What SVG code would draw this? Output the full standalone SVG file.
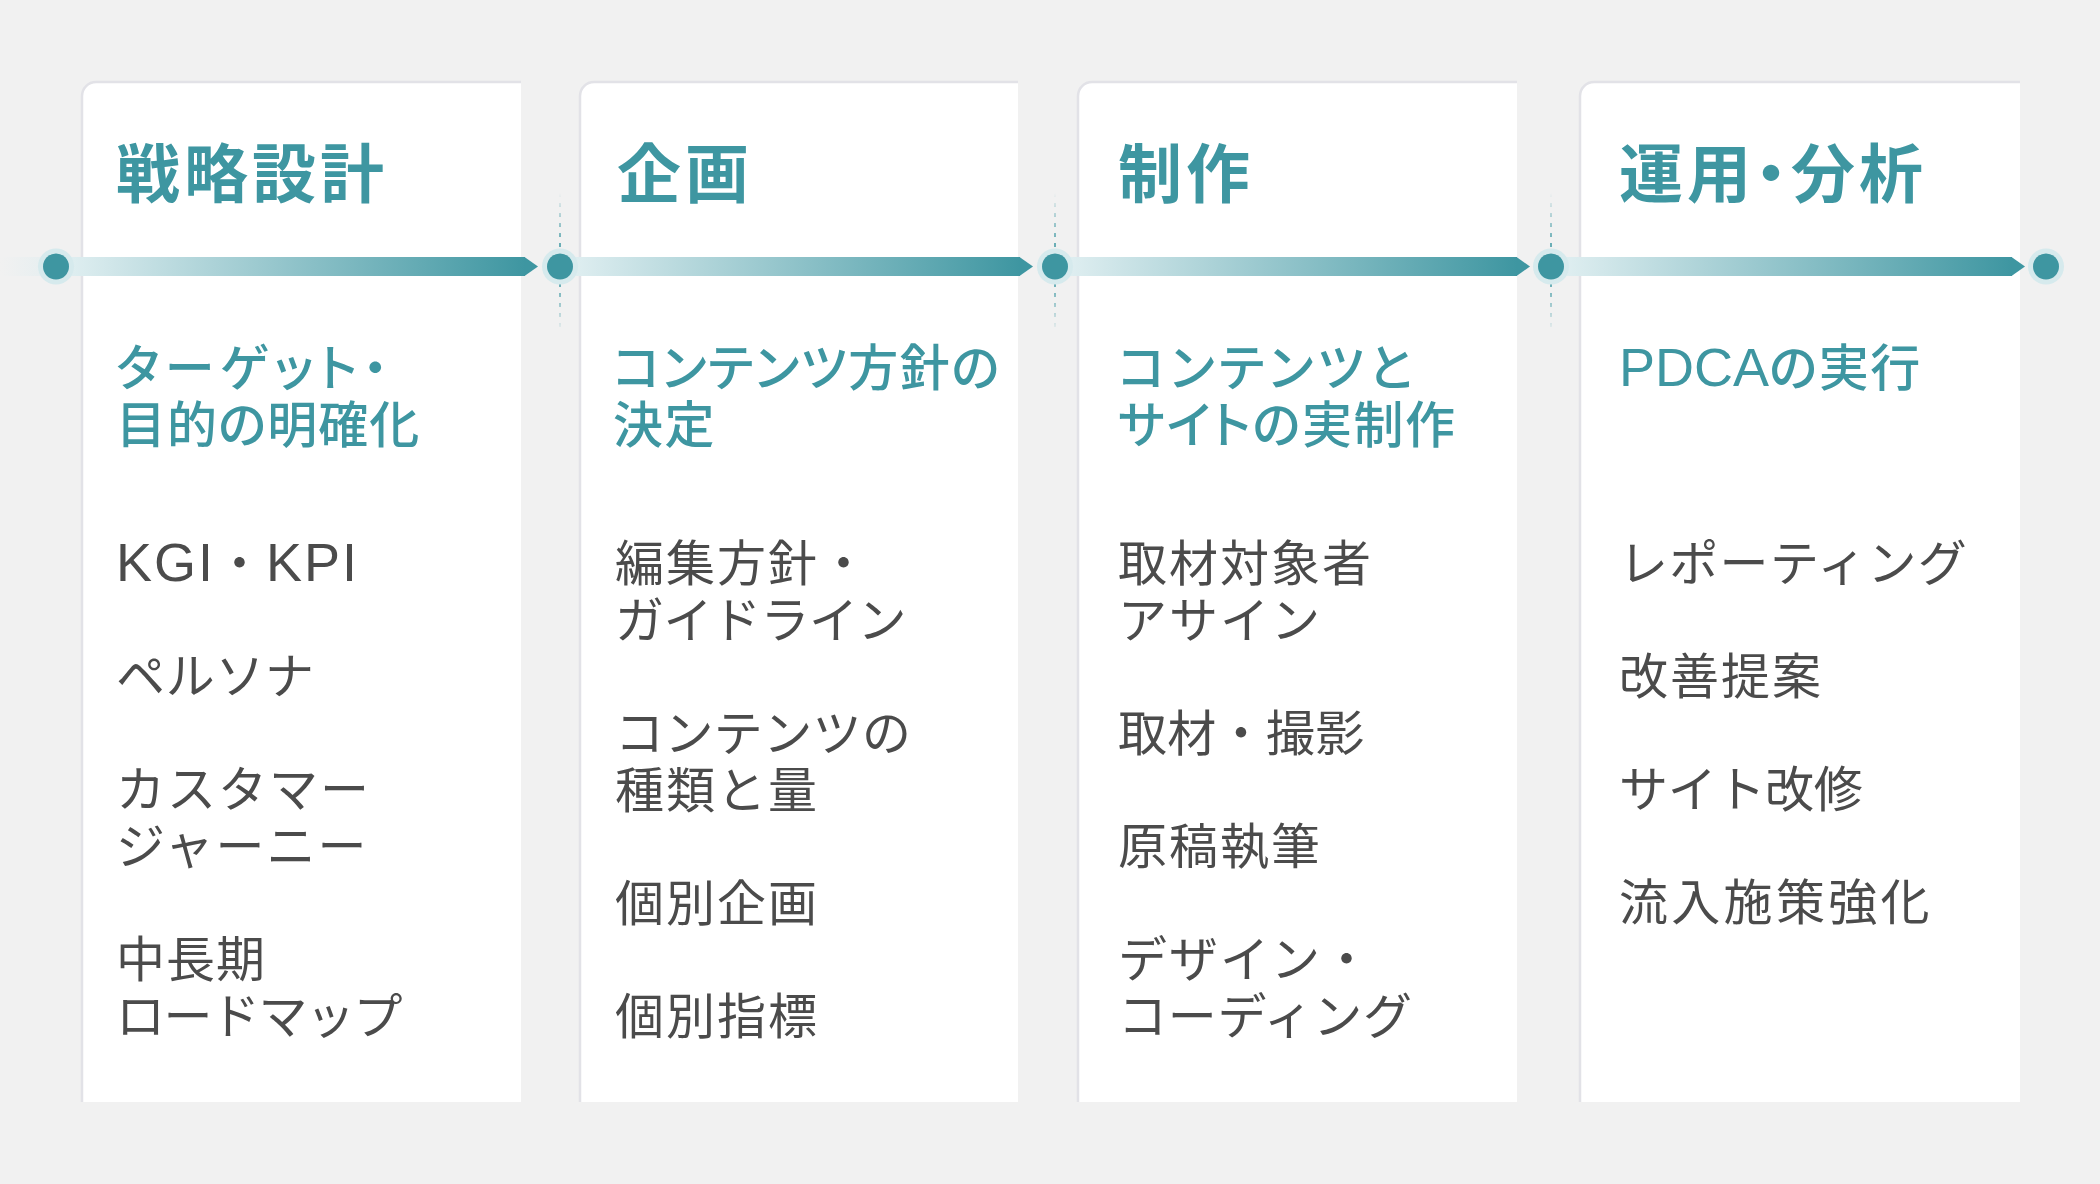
<svg xmlns="http://www.w3.org/2000/svg" width="2100" height="1184" viewBox="0 0 2100 1184">
<defs>
<style>
.card{fill:#ffffff}
.edge{fill:none;stroke:#e2e2e7;stroke-width:2.5}
.title{font-family:'Noto Sans CJK JP',sans-serif;font-weight:700;font-size:64px;fill:#3e96a1;letter-spacing:4px;font-feature-settings:"palt"}
.sub{font-family:'Liberation Sans','Noto Sans CJK JP',sans-serif;font-weight:500;font-size:50px;fill:#3e96a1;letter-spacing:1.5px;font-feature-settings:"palt"}
.body{font-family:'Liberation Sans','Noto Sans CJK JP',sans-serif;font-weight:400;font-size:49px;fill:#4b4b4b;letter-spacing:2px}
.lat{font-size:54px}
.latS{font-size:54px;letter-spacing:0px}
.halo{fill:#d6eaed}
.dot{fill:#3e96a1}
.head{fill:#3e96a1}
.dash{fill:none;stroke:url(#dashFade);stroke-width:2;stroke-dasharray:4 6}
</style>
<linearGradient id="fadeIn" gradientUnits="userSpaceOnUse" x1="0" y1="0" x2="60" y2="0">
<stop offset="0" stop-color="#e6eef0" stop-opacity="0"/>
<stop offset="1" stop-color="#e2eef0" stop-opacity="1"/>
</linearGradient>
<linearGradient id="g1" gradientUnits="userSpaceOnUse" x1="56" y1="0" x2="525" y2="0">
<stop offset="0" stop-color="#e4f1f3"/>
<stop offset="1" stop-color="#3e96a1"/>
</linearGradient>
<linearGradient id="g2" gradientUnits="userSpaceOnUse" x1="560" y1="0" x2="1020" y2="0">
<stop offset="0" stop-color="#e4f1f3"/>
<stop offset="1" stop-color="#3e96a1"/>
</linearGradient>
<linearGradient id="g3" gradientUnits="userSpaceOnUse" x1="1055" y1="0" x2="1517" y2="0">
<stop offset="0" stop-color="#e4f1f3"/>
<stop offset="1" stop-color="#3e96a1"/>
</linearGradient>
<linearGradient id="g4" gradientUnits="userSpaceOnUse" x1="1551" y1="0" x2="2012" y2="0">
<stop offset="0" stop-color="#e4f1f3"/>
<stop offset="1" stop-color="#3e96a1"/>
</linearGradient>
<linearGradient id="dashFade" gradientUnits="userSpaceOnUse" x1="0" y1="193" x2="0" y2="333">
<stop offset="0" stop-color="#6aaeb6" stop-opacity="0"/>
<stop offset="0.35" stop-color="#6aaeb6" stop-opacity="1"/>
<stop offset="0.65" stop-color="#6aaeb6" stop-opacity="1"/>
<stop offset="1" stop-color="#6aaeb6" stop-opacity="0"/>
</linearGradient>
</defs>

<rect x="0" y="0" width="2100" height="1184" fill="#f1f1f1"/>

<g id="card-1">
<path class="card" d="M82,1102 V96 A14,14 0 0 1 96,82 H521 V1102 Z"/>
<path class="edge" d="M82,1102 V96 A14,14 0 0 1 96,82 H521"/>
<text class="title" x="116" y="197">戦略設計</text>
<text class="sub" x="116" y="386" style="letter-spacing:5.5px">ターゲット・</text>
<text class="sub" x="116" y="443" style="letter-spacing:1px">目的の明確化</text>
<text class="body" x="116" y="581"><tspan class="lat">KGI</tspan>・<tspan class="lat">KPI</tspan></text>
<text class="body" x="116" y="694" style="letter-spacing:0.7px">ペルソナ</text>
<text class="body" x="116" y="807">カスタマー</text>
<text class="body" x="116" y="864">ジャーニー</text>
<text class="body" x="116" y="977" style="letter-spacing:1px">中長期</text>
<text class="body" x="116" y="1034" style="letter-spacing:-1.5px">ロードマップ</text>
</g>

<g id="card-2">
<path class="card" d="M580,1102 V96 A14,14 0 0 1 594,82 H1018 V1102 Z"/>
<path class="edge" d="M580,1102 V96 A14,14 0 0 1 594,82 H1018"/>
<text class="title" x="617" y="197">企画</text>
<text class="sub" x="613" y="386">コンテンツ方針の</text>
<text class="sub" x="613" y="443">決定</text>
<text class="body" x="615" y="581">編集方針・</text>
<text class="body" x="615" y="638" style="letter-spacing:-0.5px">ガイドライン</text>
<text class="body" x="615" y="751" style="letter-spacing:0.4px">コンテンツの</text>
<text class="body" x="615" y="808">種類と量</text>
<text class="body" x="615" y="921">個別企画</text>
<text class="body" x="615" y="1034">個別指標</text>
</g>

<g id="card-3">
<path class="card" d="M1078,1102 V96 A14,14 0 0 1 1092,82 H1517 V1102 Z"/>
<path class="edge" d="M1078,1102 V96 A14,14 0 0 1 1092,82 H1517"/>
<text class="title" x="1118" y="197">制作</text>
<text class="sub" x="1118" y="386" style="letter-spacing:4.5px">コンテンツと</text>
<text class="sub" x="1118" y="443">サイトの実制作</text>
<text class="body" x="1118" y="581">取材対象者</text>
<text class="body" x="1118" y="638">アサイン</text>
<text class="body" x="1118" y="751" style="letter-spacing:0.3px">取材・撮影</text>
<text class="body" x="1118" y="864">原稿執筆</text>
<text class="body" x="1118" y="977">デザイン・</text>
<text class="body" x="1118" y="1034" style="letter-spacing:0.7px">コーディング</text>
</g>

<g id="card-4">
<path class="card" d="M1580,1102 V96 A14,14 0 0 1 1594,82 H2020 V1102 Z"/>
<path class="edge" d="M1580,1102 V96 A14,14 0 0 1 1594,82 H2020"/>
<text class="title" x="1619" y="197">運用・分析</text>
<text class="sub" x="1619" y="386"><tspan class="latS">PDCA</tspan>の実行</text>
<text class="body" x="1619" y="581" style="letter-spacing:1.3px">レポーティング</text>
<text class="body" x="1619" y="694">改善提案</text>
<text class="body" x="1619" y="807" style="letter-spacing:-0.3px">サイト改修</text>
<text class="body" x="1619" y="920" style="letter-spacing:3.3px">流入施策強化</text>
</g>

<g id="connectors">
<line class="dash" x1="560" y1="193" x2="560" y2="333"/>
<line class="dash" x1="1055" y1="193" x2="1055" y2="333"/>
<line class="dash" x1="1551" y1="193" x2="1551" y2="333"/>
<rect x="0" y="257" width="60" height="19" fill="url(#fadeIn)"/>
<rect x="56" y="257" width="469" height="19" fill="url(#g1)"/>
<polygon class="head" points="524.5,257 538,266.5 524.5,276"/>
<rect x="560" y="257" width="460" height="19" fill="url(#g2)"/>
<polygon class="head" points="1019.5,257 1033,266.5 1019.5,276"/>
<rect x="1055" y="257" width="462" height="19" fill="url(#g3)"/>
<polygon class="head" points="1516.5,257 1530,266.5 1516.5,276"/>
<rect x="1551" y="257" width="461" height="19" fill="url(#g4)"/>
<polygon class="head" points="2011.5,257 2025,266.5 2011.5,276"/>
<circle class="halo" cx="56" cy="266.5" r="18"/>
<circle class="dot" cx="56" cy="266.5" r="13"/>
<circle class="halo" cx="560" cy="266.5" r="18"/>
<circle class="dot" cx="560" cy="266.5" r="13"/>
<circle class="halo" cx="1055" cy="266.5" r="18"/>
<circle class="dot" cx="1055" cy="266.5" r="13"/>
<circle class="halo" cx="1551" cy="266.5" r="18"/>
<circle class="dot" cx="1551" cy="266.5" r="13"/>
<circle class="halo" cx="2046" cy="266.5" r="18"/>
<circle class="dot" cx="2046" cy="266.5" r="13"/>
</g>
</svg>
